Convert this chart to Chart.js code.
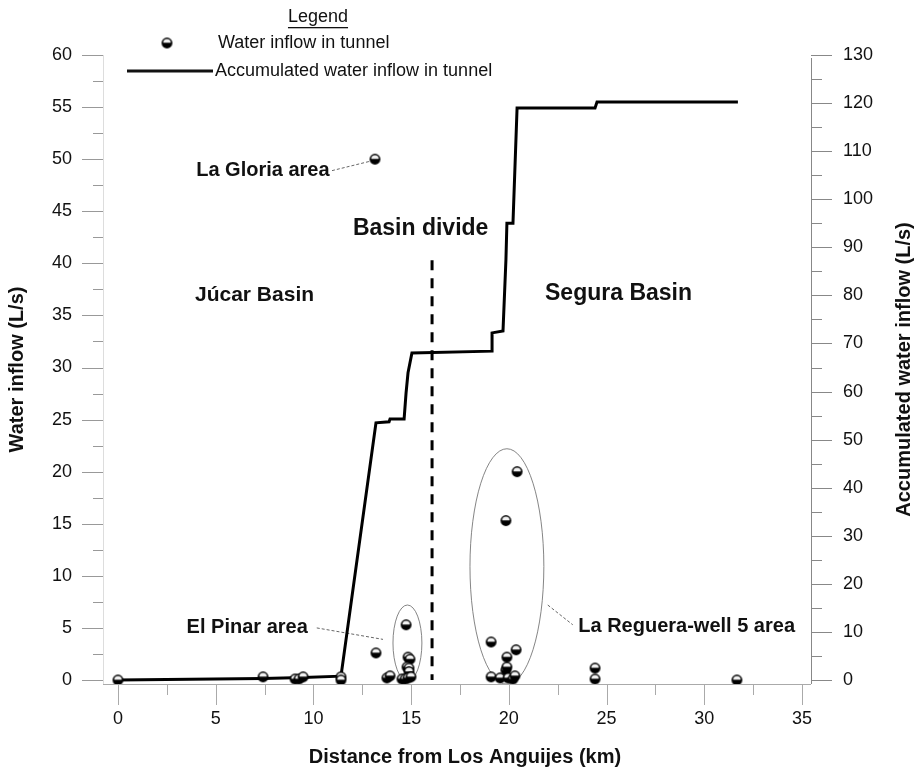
<!DOCTYPE html>
<html>
<head>
<meta charset="utf-8">
<script src="https://cdn.jsdelivr.net/npm/chart.js@4/dist/chart.umd.min.js"></script>
<style>
  body { margin: 0; background: #fff; }
  canvas { display: block; }
</style>
</head>
<body>
<canvas id="inflowChart" width="919" height="778"></canvas>
<script>
// inflow points measured along the tunnel
const distKm = [0, 7.42, 9.06, 9.26, 9.47, 11.41, 11.41, 13.2, 13.15, 13.76, 13.92,
  14.74, 14.84, 14.94, 14.79, 14.89, 14.89, 14.53, 14.69, 14.84, 14.99,
  19.09, 19.09, 19.55, 19.85, 19.9, 19.9, 19.85, 19.96, 20.21, 20.31, 20.37, 20.42,
  24.41, 24.41, 31.67];
const inflowLs = [0, 0.3, 0.1, 0.1, 0.3, 0.3, 0, 2.6, 50, 0.2, 0.4,
  5.3, 2.2, 2.0, 1.25, 1.15, 0.8, 0.1, 0.1, 0.2, 0.3,
  3.65, 0.3, 0.2, 0.95, 1.25, 2.2, 15.3, 0.2, 0.1, 0.4, 2.9, 20.0,
  1.15, 0.1, 0];

// accumulated inflow (right axis)
const accKm = [0, 7.42, 9.47, 11.41, 13.2, 13.87, 13.92, 14.64, 14.74, 14.84, 15.04,
  19.14, 19.14, 19.7, 19.85, 19.9, 20.21, 20.42, 24.41, 24.51, 31.72];
const accLs = [0, 0.3, 0.5, 0.8, 53.5, 53.7, 54.3, 54.3, 59.7, 63.9, 68.0,
  68.4, 72.2, 72.6, 87.4, 95.0, 95.0, 119.0, 119.0, 120.2, 120.2];

const xTicks = [0, 5, 10, 15, 20, 25, 30, 35];
const yTicks = [0, 5, 10, 15, 20, 25, 30, 35, 40, 45, 50, 55, 60];
const y2Ticks = [0, 10, 20, 30, 40, 50, 60, 70, 80, 90, 100, 110, 120, 130];

const divideKm = 16.07;
const divideTop = 40.3;

const FONT = '"Liberation Sans", Arial, sans-serif';

// half white / half black marker
function makeDot() {
  const c = document.createElement('canvas');
  c.width = 13; c.height = 13;
  const g = c.getContext('2d');
  g.beginPath();
  g.arc(6.5, 6.5, 5.4, 0, Math.PI * 2);
  g.fillStyle = '#000';
  g.fill();
  g.beginPath();
  g.arc(6.5, 6.2, 3.8, Math.PI, 0);
  g.closePath();
  g.fillStyle = '#f2f2f2';
  g.fill();
  return c;
}
const dot = makeDot();

const annotations = {
  id: 'annotations',
  beforeDatasetsDraw(chart) {
    const { ctx, scales: { x, y } } = chart;
    ctx.save();
    // basin divide
    ctx.strokeStyle = '#000';
    ctx.lineWidth = 3;
    ctx.setLineDash([10, 8]);
    ctx.beginPath();
    ctx.moveTo(x.getPixelForValue(divideKm), y.getPixelForValue(divideTop));
    ctx.lineTo(x.getPixelForValue(divideKm), y.getPixelForValue(0));
    ctx.stroke();

    // area ellipses
    ctx.setLineDash([]);
    ctx.strokeStyle = '#666';
    ctx.lineWidth = 0.8;
    [[14.81, 3.55, 0.74, 3.65], [19.9, 10.9, 1.89, 11.3]].forEach(([cx, cy, rx, ry]) => {
      const px = x.getPixelForValue(cx), py = y.getPixelForValue(cy);
      ctx.beginPath();
      ctx.ellipse(px, py, x.getPixelForValue(cx + rx) - px, py - y.getPixelForValue(cy + ry), 0, 0, Math.PI * 2);
      ctx.stroke();
    });

    // leader lines
    ctx.setLineDash([3, 2]);
    ctx.strokeStyle = '#666';
    ctx.lineWidth = 1;
    [[10.95, 48.9, 12.9, 49.8], [10.17, 5.0, 13.56, 3.9], [21.99, 7.2, 23.27, 5.3]].forEach(([a, b, c, d]) => {
      ctx.beginPath();
      ctx.moveTo(x.getPixelForValue(a), y.getPixelForValue(b));
      ctx.lineTo(x.getPixelForValue(c), y.getPixelForValue(d));
      ctx.stroke();
    });
    ctx.restore();
  },
  afterDraw(chart) {
    const { ctx, chartArea: area, scales: { x, y, y2 } } = chart;
    ctx.save();

    // axis lines and tick marks
    const minorX = xTicks.slice(0, -1).map(v => v + 2.5);
    const minorY = yTicks.slice(0, -1).map(v => v + 2.5);
    const minorY2 = y2Ticks.slice(0, -1).map(v => v + 5);
    ctx.lineWidth = 1;
    ctx.strokeStyle = '#ddd';
    ctx.beginPath();
    ctx.moveTo(area.left + 0.5, area.top);
    ctx.lineTo(area.left + 0.5, area.bottom);
    ctx.stroke();
    ctx.strokeStyle = '#999';
    ctx.beginPath();
    yTicks.forEach(v => { const p = Math.round(y.getPixelForValue(v)) + 0.5; ctx.moveTo(area.left - 21, p); ctx.lineTo(area.left, p); });
    minorY.forEach(v => { const p = Math.round(y.getPixelForValue(v)) + 0.5; ctx.moveTo(area.left - 10, p); ctx.lineTo(area.left, p); });
    ctx.stroke();

    ctx.strokeStyle = '#aaa';
    ctx.beginPath();
    ctx.moveTo(area.left, area.bottom + 0.5);
    ctx.lineTo(area.right, area.bottom + 0.5);
    xTicks.forEach(v => { const p = Math.round(x.getPixelForValue(v)) + 0.5; ctx.moveTo(p, area.bottom); ctx.lineTo(p, area.bottom + 21); });
    minorX.forEach(v => { const p = Math.round(x.getPixelForValue(v)) + 0.5; ctx.moveTo(p, area.bottom); ctx.lineTo(p, area.bottom + 11); });
    ctx.stroke();

    ctx.strokeStyle = '#888';
    ctx.beginPath();
    ctx.moveTo(area.right + 0.5, area.top + 3);
    ctx.lineTo(area.right + 0.5, area.bottom);
    y2Ticks.forEach(v => { const p = Math.round(y2.getPixelForValue(v)) + 0.5; ctx.moveTo(area.right, p); ctx.lineTo(area.right + 21, p); });
    minorY2.forEach(v => { const p = Math.round(y2.getPixelForValue(v)) + 0.5; ctx.moveTo(area.right, p); ctx.lineTo(area.right + 11, p); });
    ctx.stroke();

    // axis titles
    ctx.fillStyle = '#111';
    ctx.font = 'bold 20px ' + FONT;
    ctx.textAlign = 'center';
    ctx.textBaseline = 'middle';
    ctx.fillText('Distance from Los Anguijes (km)', 465, 757);
    ctx.save();
    ctx.translate(17, (area.top + area.bottom) / 2);
    ctx.rotate(-Math.PI / 2);
    ctx.fillText('Water inflow (L/s)', 0, 0);
    ctx.restore();
    ctx.save();
    ctx.translate(904, (area.top + area.bottom) / 2);
    ctx.rotate(-Math.PI / 2);
    ctx.fillText('Accumulated water inflow (L/s)', 0, 0);
    ctx.restore();

    // area labels
    ctx.textAlign = 'left';
    const labels = [
      ['La Gloria area', 4.0, 48.9, 20],
      ['Basin divide', 12.02, 43.3, 23],
      ['Júcar Basin', 3.94, 36.9, 21],
      ['Segura Basin', 21.85, 37.1, 23],
      ['El Pinar area', 3.51, 5.0, 20],
      ['La Reguera-well 5 area', 23.55, 5.1, 20]
    ];
    labels.forEach(([t, lx, ly, size]) => {
      ctx.font = 'bold ' + size + 'px ' + FONT;
      ctx.fillText(t, x.getPixelForValue(lx), y.getPixelForValue(ly));
    });

    // legend
    ctx.font = '18px ' + FONT;
    ctx.textAlign = 'center';
    ctx.fillText('Legend', 318, 17);
    const lw = ctx.measureText('Legend').width;
    ctx.fillRect(318 - lw / 2, 27, lw, 1.3);
    ctx.textAlign = 'left';
    ctx.drawImage(dot, 167 - 6.5, 43 - 6.5);
    ctx.fillText('Water inflow in tunnel', 218, 43);
    ctx.fillRect(127, 69.5, 86, 3);
    ctx.fillText('Accumulated water inflow in tunnel', 215, 71);
    ctx.restore();
  }
};

function fixedTicks(values) {
  return scale => { scale.ticks = values.map(v => ({ value: v })); };
}

const tickFont = { family: FONT, size: 18 };

new Chart(document.getElementById('inflowChart'), {
  type: 'scatter',
  data: {
    datasets: [
      {
        type: 'scatter',
        label: 'Water inflow in tunnel',
        data: distKm.map((d, i) => ({ x: d, y: inflowLs[i] })),
        yAxisID: 'y',
        pointStyle: dot,
        pointRadius: 5,
        order: 0
      },
      {
        type: 'line',
        label: 'Accumulated water inflow in tunnel',
        data: accKm.map((d, i) => ({ x: d, y: accLs[i] })),
        yAxisID: 'y2',
        borderColor: '#000',
        borderWidth: 3,
        pointRadius: 0,
        tension: 0,
        fill: false,
        order: 1
      }
    ]
  },
  options: {
    responsive: false,
    animation: false,
    layout: { padding: { top: 55, left: 0, right: 0, bottom: 0 } },
    plugins: { legend: { display: false }, tooltip: { enabled: false } },
    scales: {
      x: {
        type: 'linear', position: 'bottom', min: -0.7675, max: 35.46,
        grid: { display: false, drawTicks: false }, border: { display: false },
        ticks: { padding: 24, font: tickFont, color: '#111' },
        afterBuildTicks: fixedTicks(xTicks),
        afterFit: s => { s.height = 94; }
      },
      y: {
        type: 'linear', position: 'left', min: -0.384, max: 60,
        grid: { display: false, drawTicks: false }, border: { display: false },
        ticks: { padding: 31, font: tickFont, color: '#111' },
        afterBuildTicks: fixedTicks(yTicks),
        afterFit: s => { s.width = 103; }
      },
      y2: {
        type: 'linear', position: 'right', min: -0.832, max: 130,
        grid: { display: false, drawTicks: false }, border: { display: false },
        ticks: { padding: 32, font: tickFont, color: '#111' },
        afterBuildTicks: fixedTicks(y2Ticks),
        afterFit: s => { s.width = 108; }
      }
    }
  },
  plugins: [annotations]
});
</script>
</body>
</html>
